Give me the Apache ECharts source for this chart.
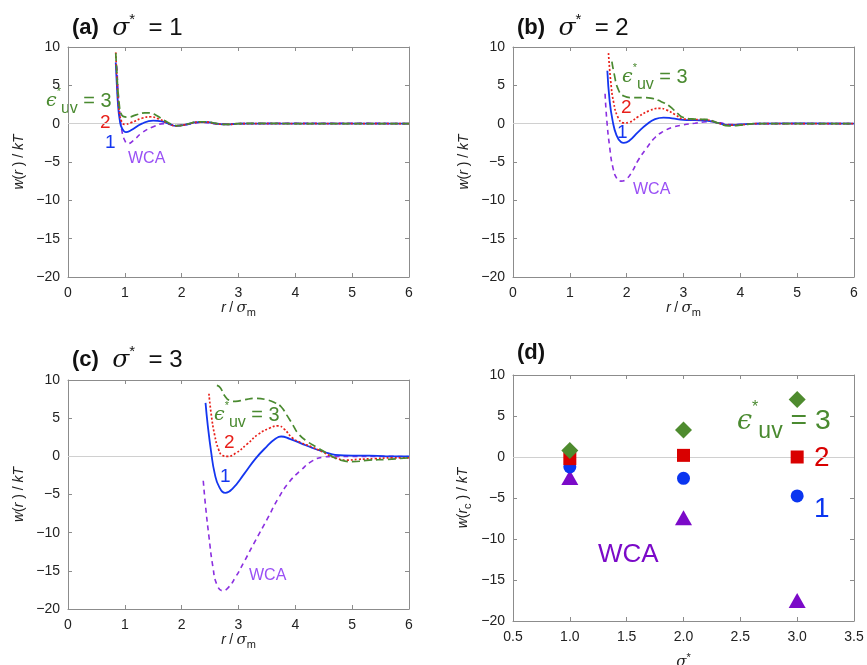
<!DOCTYPE html>
<html><head><meta charset="utf-8">
<script src="https://cdn.jsdelivr.net/npm/echarts@6/dist/echarts.min.js"></script>
<style>html,body{margin:0;padding:0;background:#fff}#c{width:867px;height:665px}</style>
</head><body><div id="c"></div>
<script>
// ---------- DATA ----------
// Panel (a) sigma* = 1 : [r, w(r)/kT]
const a_eps3 = [[0.84,9.2],[0.86,6.6],[0.88,4.2],[0.90,2.6],[0.93,1.4],[0.97,0.95],[1.05,0.85],[1.2,1.15],[1.35,1.4],[1.45,1.4],[1.55,1.1],[1.7,0.4],[1.85,-0.15],[1.95,-0.25],[2.1,-0.05],[2.3,0.25],[2.45,0.25],[2.6,0.05],[2.8,-0.1],[3.0,0.0],[3.5,0.05],[4.0,0],[5.0,0],[6.0,0]];
const a_eps2 = [[0.84,9.3],[0.86,6.0],[0.88,3.3],[0.91,1.2],[0.95,0.2],[1.0,-0.1],[1.1,0.1],[1.3,0.7],[1.45,0.9],[1.6,0.6],[1.75,0.1],[1.9,-0.3],[2.05,-0.15],[2.3,0.2],[2.45,0.2],[2.6,0.0],[2.8,-0.1],[3.0,0.0],[4.0,0],[5.0,0],[6.0,0]];
const a_eps1 = [[0.84,8.0],[0.86,5.0],[0.88,2.5],[0.91,0.5],[0.95,-0.6],[1.02,-1.1],[1.1,-0.9],[1.3,0.0],[1.5,0.4],[1.65,0.3],[1.8,-0.1],[1.9,-0.3],[2.05,-0.15],[2.3,0.2],[2.45,0.2],[2.6,0.0],[2.8,-0.1],[3.0,0.0],[4.0,0],[5.0,0],[6.0,0]];
const a_wca  = [[0.86,7.5],[0.88,4.5],[0.91,1.5],[0.95,-1.0],[1.0,-2.2],[1.05,-2.6],[1.15,-2.2],[1.3,-1.2],[1.5,-0.4],[1.7,0.0],[1.9,-0.2],[2.1,-0.1],[2.35,0.15],[2.6,0.0],[2.8,-0.05],[3.0,0.0],[4.0,0.05],[5.0,0.05],[6.0,0]];
// Panel (b) sigma* = 2
const b_eps3 = [[1.74,8.1],[1.78,6.5],[1.85,4.5],[1.95,3.6],[2.1,3.4],[2.3,3.4],[2.45,3.3],[2.6,2.9],[2.75,2.3],[2.9,1.3],[3.0,0.8],[3.2,0.6],[3.4,0.55],[3.6,0.1],[3.8,-0.3],[4.0,-0.2],[4.3,0.0],[5.0,0.0],[6.0,0.0]];
const b_eps2 = [[1.68,9.2],[1.72,5.5],[1.77,2.8],[1.85,0.8],[1.95,0.1],[2.05,0.2],[2.2,0.9],[2.4,1.7],[2.58,2.0],[2.7,1.8],[2.85,1.2],[3.0,0.6],[3.2,0.55],[3.4,0.5],[3.6,0.1],[3.8,-0.2],[4.0,-0.15],[4.3,0.0],[5.0,0.0],[6.0,0.0]];
const b_eps1 = [[1.66,6.9],[1.70,3.0],[1.75,0.5],[1.82,-1.5],[1.9,-2.4],[1.95,-2.5],[2.05,-2.2],[2.2,-1.1],[2.35,-0.1],[2.5,0.6],[2.65,0.8],[2.8,0.7],[3.0,0.5],[3.2,0.45],[3.4,0.4],[3.6,0.1],[3.8,-0.2],[4.0,-0.1],[4.3,0.0],[5.0,0.05],[6.0,0.0]];
const b_wca  = [[1.62,3.9],[1.65,0.5],[1.7,-3.0],[1.76,-5.8],[1.83,-7.2],[1.9,-7.5],[2.0,-7.2],[2.1,-6.2],[2.2,-4.8],[2.35,-3.2],[2.5,-1.8],[2.65,-1.0],[2.8,-0.5],[3.0,-0.15],[3.2,0.05],[3.4,0.25],[3.5,0.3],[3.65,0.1],[3.8,-0.1],[4.0,-0.1],[4.3,0.0],[5.0,0.0],[6.0,0.0]];
// Panel (c) sigma* = 3
const c_eps3 = [[2.62,9.3],[2.68,9.0],[2.75,8.0],[2.85,7.3],[2.95,7.2],[3.1,7.4],[3.3,7.6],[3.5,7.4],[3.65,7.0],[3.75,6.5],[3.85,5.4],[3.95,4.2],[4.05,3.0],[4.2,2.0],[4.4,1.1],[4.6,0.2],[4.8,-0.5],[5.0,-0.7],[5.3,-0.5],[5.6,-0.4],[6.0,-0.2]];
const c_eps2 = [[2.48,8.2],[2.52,5.5],[2.58,2.8],[2.65,0.9],[2.72,0.1],[2.8,0.0],[2.95,0.4],[3.15,1.6],[3.35,2.9],[3.55,3.7],[3.7,4.0],[3.8,3.6],[3.95,2.4],[4.1,1.8],[4.3,1.2],[4.5,0.5],[4.7,-0.2],[4.9,-0.5],[5.1,-0.4],[5.4,-0.3],[5.7,-0.2],[6.0,-0.2]];
const c_eps1 = [[2.42,7.0],[2.46,4.0],[2.52,0.5],[2.58,-2.2],[2.66,-4.0],[2.77,-4.8],[2.9,-4.2],[3.1,-2.3],[3.3,-0.3],[3.5,1.3],[3.65,2.3],[3.75,2.6],[3.9,2.3],[4.1,1.7],[4.3,1.1],[4.5,0.6],[4.7,0.2],[5.0,0.1],[5.3,0.1],[5.6,0.0],[6.0,0.0]];
const c_wca  = [[2.38,-3.2],[2.42,-6.5],[2.48,-10.5],[2.55,-14.5],[2.62,-16.8],[2.72,-17.6],[2.82,-17.2],[2.95,-15.8],[3.1,-13.8],[3.3,-11.0],[3.5,-8.3],[3.7,-5.5],[3.9,-3.3],[4.1,-1.8],[4.3,-0.6],[4.5,-0.1],[4.7,0.0],[5.0,0.0],[5.5,0.0],[6.0,-0.05]];
// Panel (d) w(r_c)/kT vs sigma*
const d_sigma = [1.0, 2.0, 3.0];
const d_eps3  = [0.8, 3.3, 7.0];
const d_eps2  = [-0.2, 0.2, 0.0];
const d_eps1  = [-1.2, -2.6, -4.75];
const d_wca   = [-2.5, -7.4, -17.5];
// axis ticks
const rTicks = {min:0, max:6, interval:1};
const wTicks = {min:-20, max:10, interval:5};
const sTicks = {min:0.5, max:3.5, interval:0.5};

// ---------- STYLE ----------
const GREEN='#4A8A30', RED='#E8201A', BLUE='#1436F0', PURPLE='#8B2FE0', PURPLE_T='#9A50F5';
const M_GREEN='#4E8B2E', M_RED='#D90000', M_BLUE='#0A35F0', M_PURPLE='#7B0AC8';
const FONT='Liberation Sans, Arial, Helvetica, sans-serif';
const AX='#8c8c8c';
const grids = [
  {left:68, top:47, width:341, height:230, outerBoundsMode:'none', containLabel:false},
  {left:513, top:47, width:341, height:230, outerBoundsMode:'none', containLabel:false},
  {left:68, top:380, width:341, height:229, outerBoundsMode:'none', containLabel:false},
  {left:513, top:375, width:341, height:246, outerBoundsMode:'none', containLabel:false}
];
const minus = v => (v<0 ? '\u2212'+Math.abs(v) : ''+v);
const richAx = {
  i:{fontStyle:'italic', fontSize:14, fontFamily:FONT, color:'#222'},
  n:{fontSize:14, fontFamily:FONT, color:'#222'},
  g:{fontStyle:'italic', fontSize:15, fontFamily:'DejaVu Serif, serif', color:'#222'},
  sub:{fontSize:11, fontFamily:FONT, color:'#222', verticalAlign:'bottom', lineHeight:20},
  sup:{fontSize:11, fontFamily:FONT, color:'#222', verticalAlign:'top', lineHeight:20}
};
function xAx(i, pos, isD){
  const t = isD ? sTicks : rTicks;
  const o = {type:'value', gridIndex:i, position:pos, min:t.min, max:t.max, interval:t.interval,
    axisLine:{show:true, onZero:false, lineStyle:{color:AX, width:1}},
    axisTick:{show:true, inside:true, length:4, lineStyle:{color:AX}},
    splitLine:{show:false},
    axisLabel:{show:pos==='bottom', color:'#222', fontSize:14, fontFamily:FONT, margin:9,
      formatter: isD ? (v=>v.toFixed(1)) : (v=>minus(v))}};
  if(pos==='bottom'){
    o.nameLocation='middle';
    if(isD){ o.name='{g|σ}{sup|*}'; o.nameGap=31; }
    else { o.name='{i|r} {n|/} {g|σ}{sub|m}'; o.nameGap=20; }
    o.nameTextStyle={rich:richAx};
  }
  return o;
}
function yAx(i, pos, isD){
  const o = {type:'value', gridIndex:i, position:pos, min:wTicks.min, max:wTicks.max, interval:wTicks.interval,
    axisLine:{show:true, onZero:false, lineStyle:{color:AX, width:1}},
    axisTick:{show:true, inside:true, length:4, lineStyle:{color:AX}},
    splitLine:{show:false},
    axisLabel:{show:pos==='left', color:'#222', fontSize:14, fontFamily:FONT, margin:8, formatter:v=>minus(v)}};
  if(pos==='left'){
    o.nameLocation='middle'; o.nameRotate=90; o.nameGap=isD?40:42;
    o.name = isD ? '{i|w}{n|(}{i|r}{sub|c}{n| ) / }{i|kT}' : '{i|w}{n|(}{i|r}{n| ) / }{i|kT}';
    o.nameTextStyle={rich:richAx};
  }
  return o;
}
const xAxes=[], yAxes=[];
for(let i=0;i<4;i++){ xAxes.push(xAx(i,'bottom',i===3)); yAxes.push(yAx(i,'left',i===3)); }
for(let i=0;i<4;i++){ xAxes.push(xAx(i,'top',i===3)); yAxes.push(yAx(i,'right',i===3)); }

const series=[];
// zero reference lines (behind everything)
for(let i=0;i<4;i++){
  series.push({type:'line', xAxisIndex:i, yAxisIndex:i, data:[], z:1, silent:true,
    markLine:{silent:true, symbol:['none','none'], label:{show:false}, z:1,
      lineStyle:{color:'#d0d0d0', type:'solid', width:1}, data:[{yAxis:0}]}});
}
function line(i, data, color, dash, width, z){
  return {type:'line', xAxisIndex:i, yAxisIndex:i, data:data, showSymbol:false, symbol:'none',
    smooth:0.5, z:z, lineStyle:{color:color, width:width, type:dash}};
}
const panelData = [
  [a_eps3,a_eps2,a_eps1,a_wca],
  [b_eps3,b_eps2,b_eps1,b_wca],
  [c_eps3,c_eps2,c_eps1,c_wca]
];
panelData.forEach((p,i)=>{
  series.push(line(i, p[3], PURPLE, [5,4], 1.6, 2));
  series.push(line(i, p[2], BLUE, 'solid', 1.8, 3));
  series.push(line(i, p[1], RED, [2,2], 1.7, 4));
  series.push(line(i, p[0], GREEN, [8,4], 1.7, 5));
});
function pts(ys){ return d_sigma.map((s,k)=>[s, ys[k]]); }
series.push({type:'scatter', xAxisIndex:3, yAxisIndex:3, data:pts(d_wca), symbol:'triangle', symbolSize:[17,15], itemStyle:{color:M_PURPLE, opacity:1}, z:2});
series.push({type:'scatter', xAxisIndex:3, yAxisIndex:3, data:pts(d_eps1), symbol:'circle', symbolSize:13, itemStyle:{color:M_BLUE, opacity:1}, z:3});
series.push({type:'scatter', xAxisIndex:3, yAxisIndex:3, data:pts(d_eps2), symbol:'rect', symbolSize:13, itemStyle:{color:M_RED, opacity:1}, z:4});
series.push({type:'scatter', xAxisIndex:3, yAxisIndex:3, data:pts(d_eps3), symbol:'diamond', symbolSize:[17,17], itemStyle:{color:M_GREEN, opacity:1}, z:5});

// ---------- TEXT ----------
const richTitle = {
  b:{fontWeight:'bold', fontSize:22, fontFamily:FONT, fill:'#111'},
  g:{fontStyle:'italic', fontSize:25, fontFamily:'DejaVu Serif, serif', fill:'#111'},
  sup:{fontSize:15, fontFamily:FONT, fill:'#111', verticalAlign:'top', lineHeight:32},
  n:{fontSize:24, fontFamily:FONT, fill:'#111'}
};
function title(x,y,txt){
  return {type:'text', left:x, top:y, style:{text:txt, rich:richTitle}};
}
function epsLabel(x,y,size,color){
  const r = {
    e:{fontStyle:'italic', fontSize:size, fontFamily:'DejaVu Serif, serif', fill:color},
    sup:{fontSize:Math.round(size*0.6), fontFamily:FONT, fill:color, verticalAlign:'top', lineHeight:size*1.6},
    sub:{fontSize:Math.round(size*0.85), fontFamily:FONT, fill:color, verticalAlign:'bottom', lineHeight:size*1.6},
    n:{fontSize:size*1.05, fontFamily:FONT, fill:color}
  };
  return {type:'text', left:x, top:y, style:{text:'{e|ϵ}{sup|*}{sub|uv}{n| = 3}', rich:r}};
}
function txt(x,y,s,size,color){
  return {type:'text', left:x, top:y, style:{text:s, fontSize:size, fontFamily:FONT, fill:color}};
}
const graphics = [
  title(72,12,'{b|(a)}{n|  }{g|σ}{sup|*}{n|  = 1}'),
  title(517,12,'{b|(b)}{n|  }{g|σ}{sup|*}{n|  = 2}'),
  title(72,344,'{b|(c)}{n|  }{g|σ}{sup|*}{n|  = 3}'),
  title(517,342,'{b|(d)}'),
  epsLabel(46,86,19,GREEN), txt(100,113,'2',19,RED), txt(105,133,'1',19,BLUE), txt(128,151,'WCA',16,PURPLE_T),
  epsLabel(622,62,19,GREEN), txt(621,98,'2',19,RED), txt(617,123,'1',19,BLUE), txt(633,182,'WCA',16,PURPLE_T),
  epsLabel(214,400,19,GREEN), txt(224,433,'2',19,RED), txt(220,467,'1',19,BLUE), txt(249,568,'WCA',16,PURPLE_T),
  epsLabel(737,400,27,GREEN), txt(814,444,'2',28,M_RED), txt(814,495,'1',28,M_BLUE), txt(598,542,'WCA',26,M_PURPLE)
];

const chart = echarts.init(document.getElementById('c'), null, {renderer:'canvas'});
chart.setOption({
  animation:false, backgroundColor:'#fff',
  grid: grids, xAxis: xAxes, yAxis: yAxes, series: series, graphic: graphics
});
</script></body></html>
